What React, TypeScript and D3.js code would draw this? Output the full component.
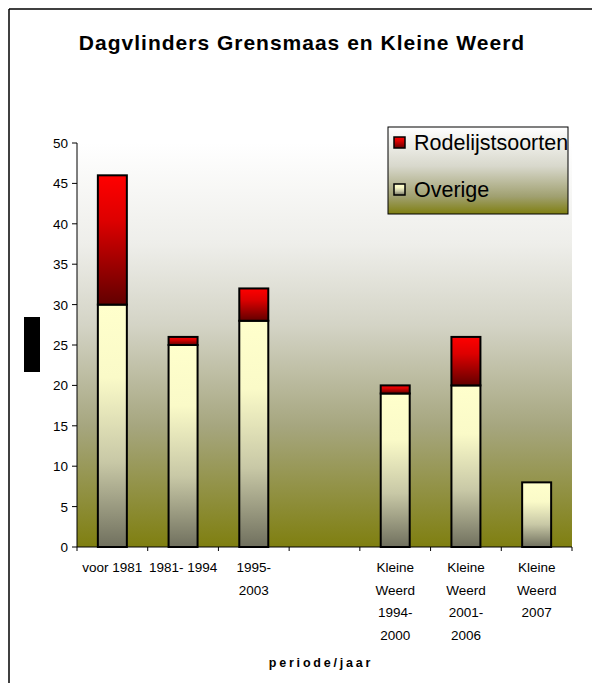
import React from "react";
import * as d3 from "d3";

// Periods (one empty slot separates Grensmaas from Kleine Weerd)
const categories: string[] = ["voor1981", "1981-1994", "1995-2003", "gap", "KW1994", "KW2001", "KW2007"];
const categoryLabels: string[][] = [
  ["voor 1981"],
  ["1981- 1994"],
  ["1995-", "2003"],
  [],
  ["Kleine", "Weerd", "1994-", "2000"],
  ["Kleine", "Weerd", "2001-", "2006"],
  ["Kleine", "Weerd", "2007"],
];
const overige: number[] = [30, 25, 28, 0, 19, 20, 8];
const rodelijst: number[] = [16, 1, 4, 0, 1, 6, 0];
const yTicks: number[] = [0, 5, 10, 15, 20, 25, 30, 35, 40, 45, 50];
const seriesNames: string[] = ["Rodelijstsoorten", "Overige"];

const W = 592;
const H = 683;
const plot = { left: 77, right: 572, top: 143, bottom: 547 };
const FONT = "'Liberation Sans', Arial, sans-serif";

export default function App() {
  const x = d3
    .scaleBand<string>()
    .domain(categories)
    .range([plot.left, plot.right])
    .paddingInner(0)
    .paddingOuter(0);
  const y = d3.scaleLinear().domain([0, 50]).range([plot.bottom, plot.top]);
  const step = x.step();
  const barW = step * 0.41;

  const stacked = categories.map((c, i) => ({
    key: c,
    ov: overige[i],
    rd: rodelijst[i],
  }));

  const boundaries = d3.range(categories.length + 1).map((i) => plot.left + i * step);

  return (
    <svg
      width={W}
      height={H}
      viewBox={`0 0 ${W} ${H}`}
      style={{ position: "absolute", left: 0, top: 0, background: "#fff" }}
      fontFamily={FONT}
    >
      <defs>
        <linearGradient id="plotBg" x1="0" y1="0" x2="0" y2="1">
          <stop offset="0" stopColor="#ffffff" />
          <stop offset="0.25" stopColor="#eeeeea" />
          <stop offset="0.45" stopColor="#d4d4c6" />
          <stop offset="0.7" stopColor="#a6a67f" />
          <stop offset="1" stopColor="#7f7f10" />
        </linearGradient>
        <linearGradient id="legendBg" x1="0" y1="0" x2="0" y2="1">
          <stop offset="0" stopColor="#ffffff" />
          <stop offset="0.45" stopColor="#d8d8cc" />
          <stop offset="0.8" stopColor="#a0a070" />
          <stop offset="1" stopColor="#7f7f10" />
        </linearGradient>
        <linearGradient id="redFill" x1="0" y1="0" x2="0" y2="1">
          <stop offset="0" stopColor="#ff0000" />
          <stop offset="0.35" stopColor="#dd0000" />
          <stop offset="1" stopColor="#620000" />
        </linearGradient>
        <linearGradient id="creamFill" x1="0" y1="0" x2="0" y2="1">
          <stop offset="0" stopColor="#ffffcc" />
          <stop offset="0.3" stopColor="#fafac8" />
          <stop offset="0.65" stopColor="#c8c8a6" />
          <stop offset="1" stopColor="#70705e" />
        </linearGradient>
      </defs>

      {/* outer chart frame */}
      <line x1={9} y1={9} x2={W} y2={9} stroke="#000" strokeWidth={1.5} />
      <line x1={9} y1={9} x2={9} y2={H} stroke="#000" strokeWidth={1.5} />

      {/* title */}
      <text x={302} y={50} textAnchor="middle" fontSize={21} fontWeight="bold" letterSpacing={1} fill="#000">
        Dagvlinders Grensmaas en Kleine Weerd
      </text>

      {/* plot area */}
      <rect
        x={plot.left}
        y={plot.top}
        width={plot.right - plot.left}
        height={plot.bottom - plot.top}
        fill="url(#plotBg)"
      />

      {/* bars */}
      {stacked.map((d) => {
        const bx = (x(d.key) as number) + (step - barW) / 2;
        return (
          <g key={d.key}>
            {d.ov > 0 && (
              <rect
                x={bx}
                y={y(d.ov)}
                width={barW}
                height={y(0) - y(d.ov)}
                fill="url(#creamFill)"
                stroke="#000"
                strokeWidth={2}
              />
            )}
            {d.rd > 0 && (
              <rect
                x={bx}
                y={y(d.ov + d.rd)}
                width={barW}
                height={y(d.ov) - y(d.ov + d.rd)}
                fill="url(#redFill)"
                stroke="#000"
                strokeWidth={2}
              />
            )}
          </g>
        );
      })}

      {/* y axis */}
      <line x1={plot.left} y1={plot.top} x2={plot.left} y2={plot.bottom} stroke="#000" strokeWidth={1} />
      {yTicks.map((t) => (
        <g key={t}>
          <line x1={plot.left - 5} y1={y(t)} x2={plot.left} y2={y(t)} stroke="#000" strokeWidth={1} />
          <text x={plot.left - 9} y={y(t) + 5} textAnchor="end" fontSize={13.5} fill="#000">
            {t}
          </text>
        </g>
      ))}

      {/* x axis */}
      <line x1={plot.left} y1={plot.bottom} x2={plot.right} y2={plot.bottom} stroke="#000" strokeWidth={1} />
      {boundaries.map((bx, i) => (
        <line key={i} x1={bx} y1={plot.bottom} x2={bx} y2={plot.bottom + 4} stroke="#000" strokeWidth={1} />
      ))}
      {categories.map((c, i) => (
        <text key={c} textAnchor="middle" fontSize={13.5} fill="#000">
          {categoryLabels[i].map((line, j) => (
            <tspan key={j} x={(x(c) as number) + step / 2} y={572 + j * 22.5}>
              {line}
            </tspan>
          ))}
        </text>
      ))}

      {/* axis titles */}
      <text x={321} y={667} textAnchor="middle" fontSize={12.5} fontWeight="bold" letterSpacing={2.8} fill="#000">
        periode/jaar
      </text>
      <rect x={24} y={317} width={16} height={55} fill="#000" />

      {/* legend */}
      <rect x={388} y={127} width={180} height={87} fill="url(#legendBg)" stroke="#000" strokeWidth={1} />
      {seriesNames.map((name, i) => (
        <g key={name}>
          <rect
            x={394}
            y={137 + i * 47}
            width={11}
            height={11}
            fill={i === 0 ? "url(#redFill)" : "url(#creamFill)"}
            stroke="#000"
            strokeWidth={1.5}
          />
          <text x={414} y={150 + i * 47} fontSize={21.5} fill="#000">
            {name}
          </text>
        </g>
      ))}
    </svg>
  );
}
